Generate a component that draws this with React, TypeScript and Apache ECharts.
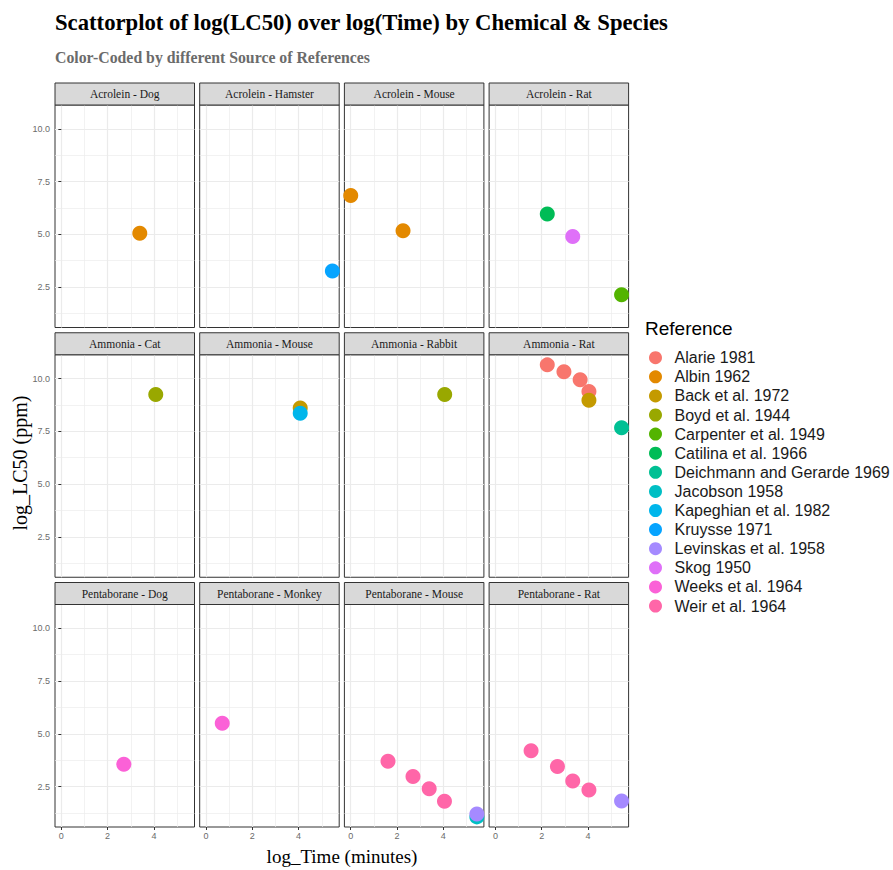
import React, { useEffect, useRef } from "react";
import * as echarts from "echarts";

const panelNames = [
  "Acrolein - Dog", "Acrolein - Hamster", "Acrolein - Mouse", "Acrolein - Rat",
  "Ammonia - Cat", "Ammonia - Mouse", "Ammonia - Rabbit", "Ammonia - Rat",
  "Pentaborane - Dog", "Pentaborane - Monkey", "Pentaborane - Mouse", "Pentaborane - Rat",
];

const references = [
  "Alarie 1981", "Albin 1962", "Back et al. 1972", "Boyd et al. 1944",
  "Carpenter et al. 1949", "Catilina et al. 1966", "Deichmann and Gerarde 1969",
  "Jacobson 1958", "Kapeghian et al. 1982", "Kruysse 1971", "Levinskas et al. 1958",
  "Skog 1950", "Weeks et al. 1964", "Weir et al. 1964",
];

const referenceColors = [
  "#F8766D", "#E38900", "#C49A00", "#99A800", "#53B400", "#00BC56", "#00C094",
  "#00BFC4", "#00B6EB", "#06A4FF", "#A58AFF", "#DF70F8", "#FB61D7", "#FF66A8",
];

const obsPanel = [
  "Acrolein - Dog", "Acrolein - Hamster", "Acrolein - Mouse", "Acrolein - Mouse",
  "Acrolein - Rat", "Acrolein - Rat", "Acrolein - Rat",
  "Ammonia - Cat", "Ammonia - Mouse", "Ammonia - Mouse", "Ammonia - Rabbit",
  "Ammonia - Rat", "Ammonia - Rat", "Ammonia - Rat", "Ammonia - Rat", "Ammonia - Rat", "Ammonia - Rat",
  "Pentaborane - Dog", "Pentaborane - Monkey",
  "Pentaborane - Mouse", "Pentaborane - Mouse", "Pentaborane - Mouse", "Pentaborane - Mouse",
  "Pentaborane - Mouse", "Pentaborane - Mouse",
  "Pentaborane - Rat", "Pentaborane - Rat", "Pentaborane - Rat", "Pentaborane - Rat", "Pentaborane - Rat",
];

const obsReference = [
  "Albin 1962", "Kruysse 1971", "Albin 1962", "Albin 1962",
  "Catilina et al. 1966", "Skog 1950", "Carpenter et al. 1949",
  "Boyd et al. 1944", "Back et al. 1972", "Kapeghian et al. 1982", "Boyd et al. 1944",
  "Alarie 1981", "Alarie 1981", "Alarie 1981", "Alarie 1981", "Back et al. 1972", "Deichmann and Gerarde 1969",
  "Weeks et al. 1964", "Weeks et al. 1964",
  "Weir et al. 1964", "Weir et al. 1964", "Weir et al. 1964", "Weir et al. 1964",
  "Jacobson 1958", "Levinskas et al. 1958",
  "Weir et al. 1964", "Weir et al. 1964", "Weir et al. 1964", "Weir et al. 1964", "Levinskas et al. 1958",
];

const logTime = [
  3.39, 5.46, 0.0, 2.26,
  2.24, 3.34, 5.45,
  4.08, 4.07, 4.07, 4.06,
  2.24, 2.96, 3.66, 4.04, 4.04, 5.45,
  2.7, 0.7,
  1.61, 2.69, 3.39, 4.05,
  5.45, 5.45,
  1.54, 2.68, 3.34, 4.04, 5.45,
];

const logLC50 = [
  5.05, 3.26, 6.84, 5.17,
  5.96, 4.89, 2.13,
  9.24, 8.61, 8.36, 9.24,
  10.65, 10.32, 9.95, 9.39, 8.97, 7.67,
  3.56, 5.5,
  3.7, 2.98, 2.39, 1.8,
  1.06, 1.2,
  4.2, 3.45, 2.76, 2.33, 1.81,
];

const xTicks = [0, 2, 4];
const xMinorTicks = [1, 3, 5];
const yTicks = [2.5, 5, 7.5, 10];
const yMinorTicks = [1.25, 3.75, 6.25, 8.75];
const xLimits = [-0.274, 5.754];
const yLimits = [0.58, 11.13];

const TITLE = "Scattorplot of log(LC50) over log(Time) by Chemical & Species";
const SUBTITLE = "Color-Coded by different Source of References";
const X_TITLE = "log_Time (minutes)";
const Y_TITLE = "log_LC50 (ppm)";
const LEGEND_TITLE = "Reference";

const SERIF = "'Liberation Serif', 'Times New Roman', 'DejaVu Serif', serif";
const SANS = "'Liberation Sans', Arial, 'DejaVu Sans', sans-serif";

export default function App() {
  const ref = useRef<HTMLDivElement>(null);

  useEffect(() => {
    if (!ref.current) return;
    const chart = echarts.init(ref.current, null, { renderer: "svg" });

    const PANEL_LEFT0 = 55;
    const PANEL_DX = 144.7;
    const PANEL_W = 139.5;
    const PANEL_TOP0 = 105;
    const PANEL_DY = 249.75;
    const PANEL_H = 222.5;
    const STRIP_H = 22;

    const grids: any[] = [];
    const xAxes: any[] = [];
    const yAxes: any[] = [];
    const graphics: any[] = [];

    panelNames.forEach((name, i) => {
      const r = Math.floor(i / 4);
      const c = i % 4;
      const left = PANEL_LEFT0 + c * PANEL_DX;
      const top = PANEL_TOP0 + r * PANEL_DY;
      grids.push({
        left, top, width: PANEL_W, height: PANEL_H,
        show: true, borderColor: "#333333", borderWidth: 1, backgroundColor: "#ffffff",
      });
      const showX = r === 2;
      const showY = c === 0;
      xAxes.push({
        type: "value", gridIndex: i, min: xLimits[0], max: xLimits[1],
        axisLine: { show: false },
        axisTick: { show: showX, customValues: xTicks, length: 3, lineStyle: { color: "#333333" } },
        axisLabel: {
          show: showX, customValues: xTicks, margin: 4, color: "#6b6b6b", fontSize: 9, fontFamily: SANS,
        },
        splitLine: { show: true, lineStyle: { color: "#ebebeb", width: 1.2 } },
      });
      xAxes.push({
        type: "value", gridIndex: i, min: xLimits[0], max: xLimits[1], position: "bottom",
        axisLine: { show: false },
        axisTick: { show: false, customValues: xMinorTicks },
        axisLabel: { show: false, customValues: xMinorTicks },
        splitLine: { show: true, lineStyle: { color: "#ededed", width: 0.7 } },
      });
      yAxes.push({
        type: "value", gridIndex: i, min: yLimits[0], max: yLimits[1],
        axisLine: { show: false },
        axisTick: { show: showY, customValues: yTicks, length: 3, lineStyle: { color: "#333333" } },
        axisLabel: {
          show: showY, customValues: yTicks, margin: 5, color: "#6b6b6b", fontSize: 9, fontFamily: SANS,
          formatter: (v: number) => v.toFixed(1),
        },
        splitLine: { show: true, lineStyle: { color: "#ebebeb", width: 1.2 } },
      });
      yAxes.push({
        type: "value", gridIndex: i, min: yLimits[0], max: yLimits[1], position: "left",
        axisLine: { show: false },
        axisTick: { show: false, customValues: yMinorTicks },
        axisLabel: { show: false, customValues: yMinorTicks },
        splitLine: { show: true, lineStyle: { color: "#ededed", width: 0.7 } },
      });
      graphics.push({
        type: "rect",
        shape: { x: left, y: top - STRIP_H, width: PANEL_W, height: STRIP_H },
        style: { fill: "#d9d9d9", stroke: "#333333", lineWidth: 1 },
        z: 10,
      });
      graphics.push({
        type: "text",
        x: left + PANEL_W / 2, y: top - STRIP_H / 2,
        style: {
          text: name, fill: "#1a1a1a", font: `11.5px ${SERIF}`,
          textAlign: "center", textVerticalAlign: "middle",
        },
        z: 11,
      });
    });

    const series: any[] = [];
    references.forEach((refName, k) => {
      panelNames.forEach((pName, i) => {
        const pts: number[][] = [];
        for (let j = 0; j < obsPanel.length; j++) {
          if (obsPanel[j] === pName && obsReference[j] === refName) pts.push([logTime[j], logLC50[j]]);
        }
        if (pts.length === 0) return;
        series.push({
          type: "scatter", name: refName, xAxisIndex: i * 2, yAxisIndex: i * 2,
          data: pts, symbol: "circle", symbolSize: 15,
          itemStyle: { color: referenceColors[k], opacity: 1 },
          emphasis: { disabled: true },
          z: 5,
        });
      });
    });

    graphics.push(
      {
        type: "text", x: 55, y: 22,
        style: { text: TITLE, fill: "#000000", font: `bold 22.7px ${SERIF}`, textVerticalAlign: "middle" },
      },
      {
        type: "text", x: 55, y: 57.5,
        style: { text: SUBTITLE, fill: "#6b6b6b", font: `bold 15.8px ${SERIF}`, textVerticalAlign: "middle" },
      },
      {
        type: "text", x: 342, y: 856,
        style: { text: X_TITLE, fill: "#000000", font: `19px ${SERIF}`, textAlign: "center", textVerticalAlign: "middle" },
      },
      {
        type: "text", x: 20, y: 463, rotation: Math.PI / 2,
        style: { text: Y_TITLE, fill: "#000000", font: `20px ${SERIF}`, textAlign: "center", textVerticalAlign: "middle" },
      },
      {
        type: "text", x: 645, y: 328,
        style: { text: LEGEND_TITLE, fill: "#000000", font: `19px ${SANS}`, textVerticalAlign: "middle" },
      }
    );

    chart.setOption({
      animation: false,
      backgroundColor: "#ffffff",
      grid: grids,
      xAxis: xAxes,
      yAxis: yAxes,
      series,
      legend: {
        orient: "vertical",
        left: 644,
        top: 344.7,
        icon: "circle",
        itemWidth: 28,
        itemHeight: 13,
        itemGap: 3.1,
        selectedMode: false,
        data: references,
        textStyle: { fontSize: 16, lineHeight: 16, color: "#1a1a1a", fontFamily: SANS },
      },
      graphic: graphics,
    });

    return () => chart.dispose();
  }, []);

  return (
    <div
      ref={ref}
      style={{ position: "absolute", left: 0, top: 0, width: 893, height: 870, background: "#fff" }}
    />
  );
}
